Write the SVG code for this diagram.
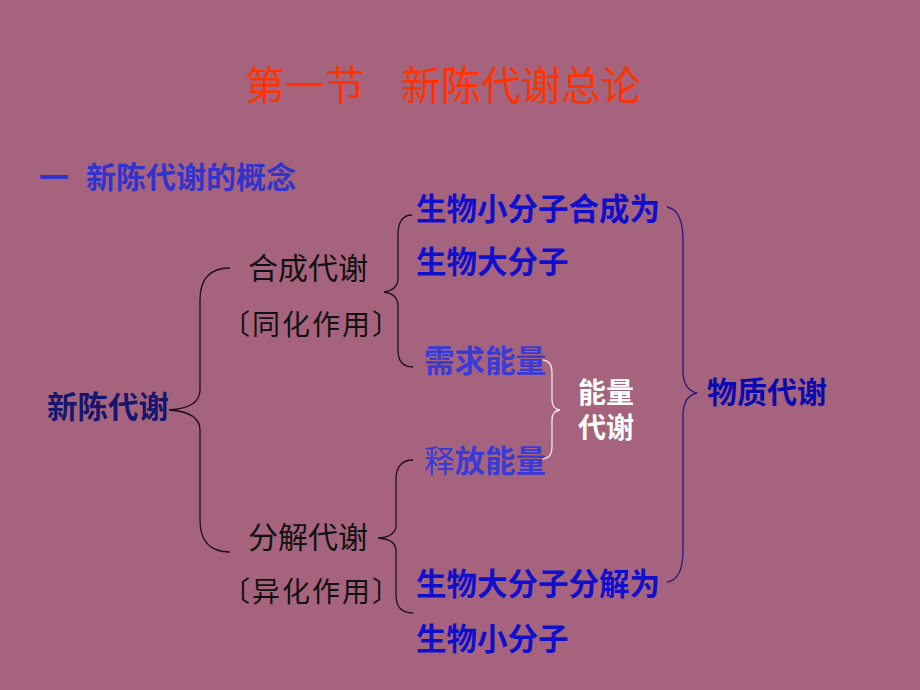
<svg xmlns="http://www.w3.org/2000/svg" width="920" height="690" viewBox="0 0 920 690">
<style>
text{font-family:"Noto Sans CJK SC","Liberation Sans",sans-serif}
.title{font-size:40px;fill:#FF3300}
.sub{font-size:30px;font-weight:bold;fill:#3333CC}
.blk{font-size:30px;fill:#111111}
.brk{font-size:28px;letter-spacing:2px;fill:#111111}
.blu{font-size:30.5px;font-weight:bold;fill:#1010CC}
.lb{font-size:30.5px;font-weight:bold;fill:#3A3AD6}
.wht{font-size:28px;font-weight:bold;fill:#FFFFFF}
.brace{fill:none;stroke:#1E0E1E;stroke-width:1.3}
</style>
<rect width="920" height="690" fill="#A6637D"/>
<g id="title"><text class="title" x="245" y="100">第一节　<tspan x="401">新陈代谢总论</tspan></text></g>
<g id="subtitle"><text class="sub" x="39" y="188">一<tspan x="86">新陈代谢的概念</tspan></text></g>
<g id="root"><text x="47" y="418" style="font-size:30.5px;font-weight:bold;fill:#16166E">新陈代谢</text></g>
<g id="anabolism"><text class="blk" x="248" y="279">合成代谢</text><text class="brk" x="222" y="335">〔同化作用〕</text></g>
<g id="catabolism"><text class="blk" x="248" y="548">分解代谢</text><text class="brk" x="222" y="602">〔异化作用〕</text></g>
<g id="synth"><text class="blu" x="416" y="220">生物小分子合成为</text><text class="blu" x="416" y="273">生物大分子</text></g>
<g id="need"><text class="lb" x="424" y="372">需求能量</text></g>
<g id="release"><text class="lb" x="424" y="472"><tspan font-weight="normal">释</tspan>放能量</text></g>
<g id="energy"><text class="wht" x="578" y="403">能量<tspan x="578" y="438">代谢</tspan></text></g>
<g id="degrade"><text class="blu" x="416" y="595">生物大分子分解为</text><text class="blu" x="416" y="650">生物小分子</text></g>
<g id="material"><text x="707" y="403" style="font-size:30px;font-weight:bold;fill:#0A0AB0">物质代谢</text></g>
<g id="connectors">
<path class="brace" d="M230,268 Q200,268 200,300 L200,390 Q200,408 169,410 Q200,412 200,430 L200,520 Q200,552 230,552"/>
<path class="brace" d="M412,215 Q398,215 398,235 L398,278 Q398,290 384,292 Q398,294 398,306 L398,350 Q398,367 413,367"/>
<path class="brace" d="M413,460 Q396,460 396,480 L396,525 Q396,537 378,538 Q396,539 396,551 L396,595 Q396,613 413,613"/>
<path class="brace" style="stroke:#F4E6EE" d="M543,360 Q552,361 552,372 L552,400 Q552,409 560,410 Q552,411 552,420 L552,447 Q552,458 543,459"/>
<path class="brace" style="stroke:#2A1A80" d="M667,207 Q683,210 683,240 L683,370 Q683,390 697,393 Q683,396 683,416 L683,550 Q683,580 667,582"/>
</g>
</svg>
